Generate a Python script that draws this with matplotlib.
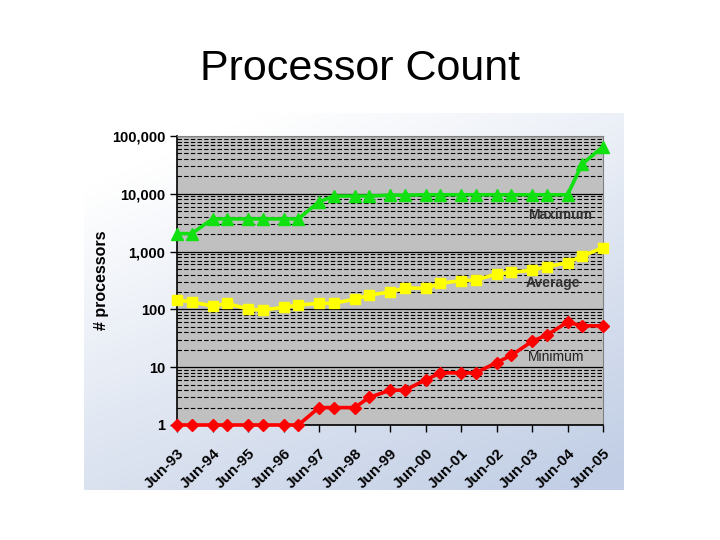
import numpy as np
import matplotlib.pyplot as plt
from matplotlib.ticker import FixedLocator, NullFormatter

plt.rcParams['font.family'] = ['Liberation Sans', 'DejaVu Sans']

# TOP500 lists, June and November
dates = ['Jun-93', 'Nov-93', 'Jun-94', 'Nov-94', 'Jun-95', 'Nov-95', 'Jun-96', 'Nov-96',
         'Jun-97', 'Nov-97', 'Jun-98', 'Nov-98', 'Jun-99', 'Nov-99', 'Jun-00', 'Nov-00',
         'Jun-01', 'Nov-01', 'Jun-02', 'Nov-02', 'Jun-03', 'Nov-03', 'Jun-04', 'Nov-04',
         'Jun-05']
maximum = [2048, 2048, 3680, 3680, 3680, 3680, 3680, 3680, 7264, 9152, 9152, 9152, 9472,
           9472, 9632, 9632, 9632, 9632, 9632, 9632, 9632, 9632, 9632, 32768, 65536]
average = [145, 135, 114, 127, 101, 98, 108, 119, 127, 128, 150, 177, 200, 235, 231, 283,
           314, 323, 408, 437, 478, 547, 642, 838, 1170]
minimum = [1, 1, 1, 1, 1, 1, 1, 1, 2, 2, 2, 3, 4, 4, 6, 8, 8, 8, 12, 16, 28, 36, 60, 52, 52]
tick_labels = ['Jun-%02d' % (y % 100) for y in range(1993, 2006)]

month = {'Jun': 5, 'Nov': 10}


def to_year(label):
    yy = int(label[4:])
    full = 1900 + yy if yy >= 50 else 2000 + yy
    return full + month[label[:3]] / 12


x = np.array([to_year(d) for d in dates])
tick_x = [to_year(t) for t in tick_labels]

fig = plt.figure(figsize=(7.2, 5.4), dpi=100)

# slide background behind the chart
bg = fig.add_axes([84 / 720, 50 / 540, 540 / 720, 377 / 540])
gx, gy = np.meshgrid(np.linspace(0, 1, 200), np.linspace(0, 1, 200))
t = np.clip(0.75 * gy + 0.45 * gx - 0.15, 0, 1)
top = np.array([1.0, 1.0, 1.0])
bot = np.array([0.76, 0.81, 0.90])
img = top[None, None, :] * (1 - t[..., None]) + bot[None, None, :] * t[..., None]
bg.imshow(img, aspect='auto', extent=[0, 1, 1, 0])
bg.axis('off')

ax = fig.add_axes([177 / 720, 115 / 540, 426 / 720, 289 / 540])
ax.set_facecolor('#c0c0c0')

ax.plot(x, maximum, color='#11e011', lw=2.6, marker='^', ms=8, zorder=3, clip_on=False)
ax.plot(x, average, color='#ffff00', lw=2.6, marker='s', ms=7.5, zorder=3, clip_on=False)
ax.plot(x, minimum, color='#ff0000', lw=2.6, marker='D', ms=6, zorder=3, clip_on=False)

ax.set_yscale('log')
ax.set_ylim(1, 100000)
ax.set_xlim(x[0], x[-1])

ax.yaxis.set_major_locator(FixedLocator([1, 10, 100, 1000, 10000, 100000]))
ax.set_yticklabels(['1', '10', '100', '1,000', '10,000', '100,000'])
ax.yaxis.set_minor_locator(FixedLocator([m * 10 ** e for e in range(5) for m in range(2, 10)]))
ax.yaxis.set_minor_formatter(NullFormatter())
ax.grid(True, which='major', axis='y', color='black', lw=0.9, ls='-')
ax.grid(True, which='minor', axis='y', color='black', lw=0.8, ls=(0, (4, 2)))
ax.set_axisbelow(True)

ax.set_xticks(tick_x)
ax.set_xticklabels(tick_labels, rotation=45, ha='right', rotation_mode='anchor',
                   fontsize=11, fontweight='bold')
for lab in ax.get_yticklabels():
    lab.set_fontweight('bold')
    lab.set_fontsize(10.5)
ax.tick_params(axis='both', which='major', direction='out', length=5, width=1)
ax.tick_params(axis='y', which='minor', length=0)
ax.tick_params(axis='x', pad=10)

for side in ['left', 'bottom']:
    ax.spines[side].set_color('black')
    ax.spines[side].set_linewidth(1.2)
for side in ['top', 'right']:
    ax.spines[side].set_color('#808080')

ax.set_ylabel('# processors', fontsize=11.5, fontweight='bold', labelpad=2)

ax.text(2004.2, 4300, 'Maximum', ha='center', va='center', fontsize=10, fontweight='bold',
        color='#333333')
ax.text(2004.0, 286, 'Average', ha='center', va='center', fontsize=10, fontweight='bold',
        color='#333333')
ax.text(2004.1, 15, 'Minimum', ha='center', va='center', fontsize=10, color='#222222')

fig.text(0.5, 0.873, 'Processor Count', ha='center', va='center', fontsize=31)

fig.savefig('out.png', dpi=100)
